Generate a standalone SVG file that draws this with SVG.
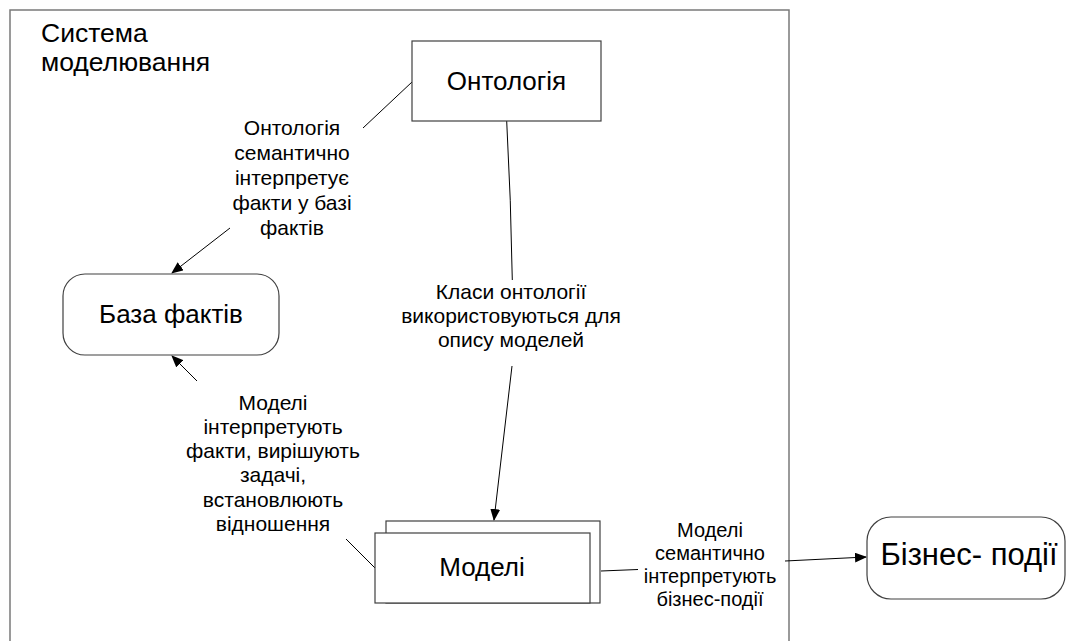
<svg xmlns="http://www.w3.org/2000/svg" width="1067" height="641" viewBox="0 0 1067 641">
<style>
text{font-family:"Liberation Sans",Arial,sans-serif;fill:#000}
.frame{fill:none;stroke:#7a7a7a;stroke-width:1.5}
.box{fill:#fff;stroke:#404040;stroke-width:1.2}
.big{font-size:26px;text-anchor:middle}
.lbl{font-size:21px;text-anchor:middle}
.lbl2{font-size:20px;text-anchor:middle}
.conn{fill:none;stroke:#000;stroke-width:1}
</style>
<defs>
<marker id="arr" markerWidth="12" markerHeight="10" refX="11" refY="5" orient="auto" markerUnits="userSpaceOnUse">
<path d="M0,0 L12,5 L0,10 Z" fill="#000"/>
</marker>
</defs>
<rect width="1067" height="641" fill="#fff"/>
<g id="system">
<path class="frame" d="M10,650 L10,10 L789,10 L789,650"/>
<text x="41" y="42" style="font-size:26.5px">Система</text>
<text x="41" y="71" style="font-size:26.5px">моделювання</text>
</g>
<g id="connectors">
<line class="conn" x1="363" y1="128" x2="412" y2="82"/>
<line class="conn" x1="230" y1="228" x2="172" y2="273" marker-end="url(#arr)"/>
<line class="conn" x1="197" y1="381" x2="172" y2="356" marker-end="url(#arr)"/>
<path class="conn" d="M506.7,121 Q511,200 512.3,280"/>
<line class="conn" x1="512" y1="366" x2="494" y2="520" marker-end="url(#arr)"/>
<line class="conn" x1="346" y1="539" x2="375" y2="568"/>
<line class="conn" x1="601" y1="571" x2="638" y2="569.5"/>
<line class="conn" x1="785" y1="561" x2="866" y2="557" marker-end="url(#arr)"/>
<g class="lbl">
<text x="292" y="135">Онтологія</text>
<text x="292" y="160">семантично</text>
<text x="292" y="185">інтерпретує</text>
<text x="292" y="210">факти у базі</text>
<text x="292" y="235">фактів</text>
</g>
<g class="lbl">
<text x="511" y="299">Класи онтології</text>
<text x="511" y="323">використовуються для</text>
<text x="511" y="347">опису моделей</text>
</g>
<g class="lbl">
<text x="273" y="410">Моделі</text>
<text x="273" y="434">інтерпретують</text>
<text x="273" y="458">факти, вирішують</text>
<text x="273" y="482">задачі,</text>
<text x="273" y="507">встановлюють</text>
<text x="273" y="531">відношення</text>
</g>
<g class="lbl2">
<text x="710" y="537">Моделі</text>
<text x="710" y="560">семантично</text>
<text x="710" y="583">інтерпретують</text>
<text x="710" y="606">бізнес-події</text>
</g>
</g>
<g id="ontology">
<rect class="box" x="412" y="41" width="189" height="80"/>
<text class="big" x="506.5" y="90">Онтологія</text>
</g>
<g id="facts">
<rect class="box" x="63" y="274" width="216" height="81" rx="22" ry="22"/>
<text class="big" x="171" y="323">База фактів</text>
</g>
<g id="models">
<rect class="box" x="386" y="521" width="214" height="82"/>
<rect class="box" x="375" y="533" width="215" height="70"/>
<text class="big" x="482" y="576">Моделі</text>
</g>
<g id="events">
<rect class="box" x="867" y="517" width="198" height="82" rx="24" ry="24"/>
<text class="big" x="969" y="565" style="font-size:31px">Бізнес- події</text>
</g>
</svg>
